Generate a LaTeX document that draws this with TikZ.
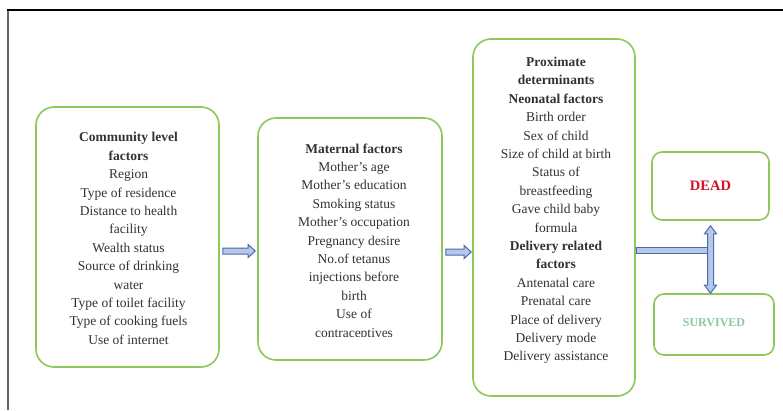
\documentclass[tikz,border=0pt]{standalone}
\usepackage{fontspec}
\setmainfont{Liberation Serif}
\usetikzlibrary{calc}
\definecolor{boxgreen}{RGB}{140,200,90}
\definecolor{arrfill}{RGB}{182,200,232}
\definecolor{arrdraw}{RGB}{75,105,175}
\definecolor{txtgray}{RGB}{50,50,50}
\definecolor{deadred}{RGB}{210,20,35}
\definecolor{survgreen}{RGB}{140,200,160}
\definecolor{framegray}{RGB}{100,100,100}
\begin{document}
\begin{tikzpicture}[x=1pt,y=-1pt,
 box/.style={draw=boxgreen, line width=1.6pt, rounded corners=18pt, fill=white, inner sep=0pt},
 smallbox/.style={box, rounded corners=10pt},
 body/.style={align=center, inner sep=0pt, text=txtgray, font=\fontsize{13.5}{18.4}\selectfont},
 barrow/.style={draw=arrdraw, fill=arrfill, line width=1pt, line join=miter}]
\useasboundingbox (0,0) rectangle (783,410);
\fill[white] (0,0) rectangle (783,410);
\draw[line width=1.8pt, framegray] (8,410) -- (8,10);
\draw[line width=1.2pt] (7.1,10) -- (783,10);

% boxes
\node[box, minimum width=183pt, minimum height=260pt] (b1) at (127.5,237) {};
\node[box, minimum width=184pt, minimum height=242pt] (b2) at (350,239) {};
\node[box, minimum width=162pt, minimum height=357pt] (b3) at (554,217.5) {};
\node[smallbox, minimum width=117pt, minimum height=68pt, text=deadred, font=\fontsize{14.5}{16}\selectfont\bfseries] (b4) at (710.5,186) {DEAD};
\node[smallbox, minimum width=120pt, minimum height=61pt, text=survgreen, font=\fontsize{12}{14}\selectfont\bfseries] (b5) at (714,324.5) {\raisebox{3pt}{SURVIVED}};

% texts
\node[body] (t1) at (128.5,239.5) {\strut\textbf{Community level}\\ \textbf{factors}\\ Region\\ Type of residence\\ Distance to health\\ facility\\ Wealth status\\ Source of drinking\\ water\\ Type of toilet facility\\ Type of cooking fuels\\ Use of internet\strut};
\begin{scope}
\clip (250,100) rectangle (450,336.5);
\node[body] (t2) at (354,241.5) {\strut\textbf{Maternal factors}\\ Mother's age\\ Mother's education\\ Smoking status\\ Mother's occupation\\ Pregnancy desire\\ No.of tetanus\\ injections before\\ birth\\ Use of\\ contraceptives\strut};
\end{scope}
\node[body] (t3) at (556,210) {\strut\textbf{Proximate}\\ \textbf{determinants}\\ \textbf{Neonatal factors}\\ Birth order\\ Sex of child\\ Size of child at birth\\ Status of\\ breastfeeding\\ Gave child baby\\ formula\\ \textbf{Delivery related}\\ \textbf{factors}\\ Antenatal care\\ Prenatal care\\ Place of delivery\\ Delivery mode\\ Delivery assistance\strut};

% block arrows between boxes
\coordinate (a1s) at ($(b1.east |- 0,251)+(3,0)$);
\coordinate (a1e) at ($(b2.west |- 0,251)+(-2,0)$);
\draw[barrow] ($(a1s)+(0,-3)$) -- ($(a1e)+(-7,-3)$) -- ($(a1e)+(-7,-6.5)$) -- (a1e) -- ($(a1e)+(-7,6.5)$) -- ($(a1e)+(-7,3)$) -- ($(a1s)+(0,3)$) -- cycle;
\coordinate (a2s) at ($(b2.east |- 0,252)+(3,0)$);
\coordinate (a2e) at ($(b3.west |- 0,252)+(-1,0)$);
\draw[barrow] ($(a2s)+(0,-3)$) -- ($(a2e)+(-7,-3)$) -- ($(a2e)+(-7,-6.5)$) -- (a2e) -- ($(a2e)+(-7,6.5)$) -- ($(a2e)+(-7,3)$) -- ($(a2s)+(0,3)$) -- cycle;

% T connector
\coordinate (vt) at ($(b4.south)+(0,5)$);
\coordinate (vb) at (b5.north -| vt);
\draw[barrow] ($(b3.east |- 0,247.5)+(1,0)$) rectangle ($(vt |- 0,253.5)+(-3,0)$);
\draw[barrow] (vt) -- ($(vt)+(6,8)$) -- ($(vt)+(3,8)$) -- ($(vb)+(3,-8)$) -- ($(vb)+(6,-8)$) -- (vb) -- ($(vb)+(-6,-8)$) -- ($(vb)+(-3,-8)$) -- ($(vt)+(-3,8)$) -- ($(vt)+(-6,8)$) -- cycle;
\end{tikzpicture}
\end{document}
